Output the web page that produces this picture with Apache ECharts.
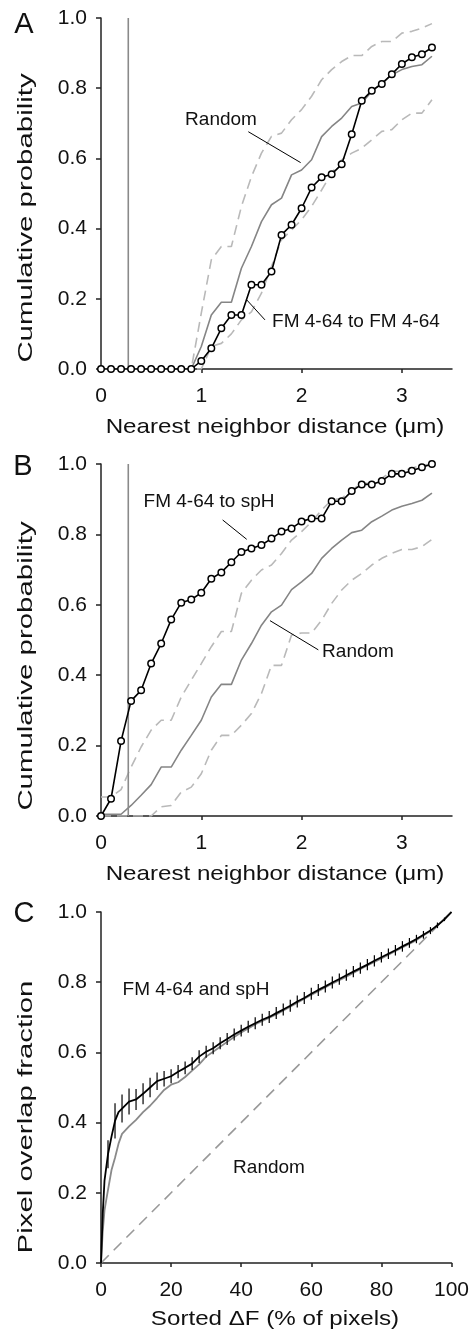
<!DOCTYPE html>
<html><head><meta charset="utf-8">
<script src="https://cdn.jsdelivr.net/npm/echarts@6/dist/echarts.min.js"></script>
<style>html,body{margin:0;padding:0;background:#fff}#c{width:472px;height:1339px}</style>
</head><body><div id="c"></div>
<script>
// ---------- data ----------
const distX = [0,0.1,0.2,0.3,0.4,0.5,0.6,0.7,0.8,0.9,1.0,1.1,1.2,1.3,1.4,1.5,1.6,1.7,1.8,1.9,2.0,2.1,2.2,2.3,2.4,2.5,2.6,2.7,2.8,2.9,3.0,3.1,3.2,3.3];
const distTicks = [0,1,2,3];
const probTicks = [0,0.2,0.4,0.6,0.8,1.0];

// Panel A: FM 4-64 to FM 4-64
const aObserved = [0,0,0,0,0,0,0,0,0,0,0.023,0.059,0.116,0.154,0.154,0.240,0.240,0.278,0.382,0.411,0.458,0.517,0.546,0.555,0.583,0.669,0.764,0.793,0.812,0.840,0.869,0.888,0.897,0.916];
const aRandom   = [0,0,0,0,0,0,0,0,0,0,0.064,0.154,0.190,0.190,0.287,0.349,0.420,0.468,0.487,0.553,0.567,0.596,0.662,0.691,0.715,0.748,0.758,0.791,0.815,0.838,0.853,0.862,0.867,0.891];
const aUpper    = [0,0,0,0,0,0,0,0,0,0,0.159,0.311,0.349,0.349,0.463,0.548,0.615,0.663,0.672,0.710,0.739,0.777,0.824,0.853,0.876,0.893,0.893,0.919,0.933,0.933,0.957,0.962,0.971,0.984];
const aLower    = [0,0,0,0,0,0,0,0,0,0,0,0.064,0.073,0.100,0.140,0.163,0.216,0.292,0.368,0.396,0.425,0.463,0.510,0.558,0.596,0.615,0.629,0.653,0.677,0.682,0.710,0.729,0.729,0.767];

// Panel B: FM 4-64 to spH
const bObserved = [0,0.049,0.213,0.327,0.357,0.433,0.490,0.558,0.606,0.615,0.634,0.674,0.692,0.721,0.750,0.760,0.770,0.788,0.808,0.817,0.837,0.845,0.845,0.894,0.894,0.923,0.942,0.942,0.952,0.972,0.972,0.981,0.991,1.0];
const bRandom   = [0.005,0.005,0.005,0.030,0.059,0.089,0.139,0.139,0.187,0.229,0.272,0.338,0.374,0.374,0.443,0.490,0.542,0.580,0.599,0.643,0.665,0.689,0.732,0.760,0.784,0.805,0.812,0.836,0.852,0.869,0.880,0.888,0.897,0.917];
const bUpper    = [0.054,0.054,0.075,0.139,0.196,0.244,0.272,0.272,0.338,0.386,0.433,0.481,0.524,0.524,0.633,0.670,0.699,0.713,0.746,0.784,0.808,0.836,0.869,0.898,0.902,0.926,0.945,0.945,0.960,0.979,0.979,0.988,0.997,1.0];
const bLower    = [0,0,0,0,0,0,0.026,0.030,0.068,0.082,0.120,0.187,0.229,0.229,0.258,0.291,0.348,0.428,0.428,0.514,0.520,0.520,0.556,0.604,0.642,0.670,0.689,0.713,0.732,0.746,0.757,0.757,0.765,0.786];

const markerDist = 0.272; // vertical reference line (um)

// Panel C: pixel overlap
const cX    = [0,0.5,1,2,3,4,5,6,8,10,12,14,16,18,20,22,24,26,28,30,32,34,36,38,40,42,44,46,48,50,52,54,56,58,60,62,64,66,68,70,72,74,76,78,80,82,84,86,88,90,92,94,96,98,100];
const cMean = [0,0.140,0.235,0.310,0.360,0.405,0.430,0.440,0.460,0.466,0.482,0.500,0.518,0.525,0.532,0.545,0.556,0.568,0.588,0.602,0.612,0.626,0.638,0.651,0.662,0.673,0.683,0.693,0.701,0.712,0.722,0.733,0.745,0.755,0.767,0.778,0.788,0.799,0.809,0.820,0.830,0.840,0.850,0.861,0.871,0.881,0.891,0.902,0.912,0.923,0.935,0.947,0.962,0.979,1.0];
const cErrX = [2,4,6,8,10,12,14,16,18,20,22,24,26,28,30,32,34,36,38,40,42,44,46,48,50,52,54,56,58,60,62,64,66,68,70,72,74,76,78,80,82,84,86,88,90,92,94,96,98];
const cErr  = [0.040,0.050,0.040,0.037,0.030,0.030,0.028,0.025,0.022,0.020,0.019,0.018,0.018,0.018,0.017,0.017,0.017,0.017,0.017,0.017,0.017,0.017,0.017,0.017,0.017,0.017,0.017,0.017,0.017,0.017,0.017,0.017,0.017,0.016,0.016,0.016,0.016,0.016,0.016,0.015,0.015,0.015,0.015,0.014,0.012,0.011,0.010,0.008,0.005];
const cGrayX = [0,0.5,1,1.5,3,4,5,6,8,10,12,14,16,18,20,22,24,26,28,30,32,34,36,38,40,45,50,55,60,65,70,75,80,85,90,95,100];
const cGray  = [0,0.090,0.150,0.180,0.265,0.300,0.340,0.368,0.389,0.408,0.430,0.448,0.470,0.493,0.508,0.515,0.530,0.548,0.566,0.588,0.602,0.616,0.630,0.644,0.657,0.685,0.708,0.736,0.764,0.791,0.816,0.843,0.868,0.894,0.920,0.952,1.0];
const cRandomX = [0,100];
const cRandomY = [0,1];
const pctTicks = [0,20,40,60,80,100];

// ---------- styles ----------
const FONT = '"Liberation Sans", Arial, sans-serif';
const TXT = '#111';
const AX = '#222';
const TICKFS = 21;
const zip = (xs, ys) => xs.map((x, i) => [x, ys[i]]);

function xAxisDist(gi) {
  return {
    type: 'value', gridIndex: gi, min: 0, max: 3.5,
    axisLine: {show: true, onZero: false, lineStyle: {color: AX, width: 1.5}},
    axisTick: {show: true, length: 4, customValues: distTicks, lineStyle: {color: AX, width: 1.5}},
    axisLabel: {customValues: distTicks, margin: 17, fontSize: TICKFS, fontFamily: FONT, color: TXT},
    splitLine: {show: false}
  };
}
function yAxisProb(gi) {
  return {
    type: 'value', gridIndex: gi, min: 0, max: 1, interval: 0.2,
    axisLine: {show: true, onZero: false, lineStyle: {color: AX, width: 1.5}},
    axisTick: {show: true, length: 5, lineStyle: {color: AX, width: 1.5}},
    axisLabel: {margin: 14, fontSize: TICKFS, fontFamily: FONT, color: TXT, formatter: v => v.toFixed(1)},
    splitLine: {show: false}
  };
}
const dashStyle = {color: '#b9b9b9', width: 1.6, type: [10, 6]};
const grayStyle = {color: '#858585', width: 1.6};
const leader = (pairs) => ({
  silent: true, symbol: 'none', label: {show: false},
  lineStyle: {color: '#000', width: 1, type: 'solid'},
  data: pairs.map(p => [{coord: p[0]}, {coord: p[1]}])
});
const circleSeries = (gi, ys) => ({
  type: 'line', xAxisIndex: gi, yAxisIndex: gi, data: zip(distX, ys),
  symbol: 'circle', symbolSize: 6.5, showSymbol: true,
  lineStyle: {color: '#000', width: 1.6},
  itemStyle: {color: '#fff', borderColor: '#000', borderWidth: 1.5},
  z: 5
});
const plain = (gi, data, ls, extra) => Object.assign({
  type: 'line', xAxisIndex: gi, yAxisIndex: gi, data: data, symbol: 'none', lineStyle: ls, silent: true
}, extra || {});

const T = (text, x, y, size, extra) => Object.assign({
  type: 'text', x: x, y: y,
  style: {text: text, fontSize: size, fontFamily: FONT, fill: TXT, align: 'center', verticalAlign: 'middle'}
}, extra || {});
const YT = (text, y) => T(text, 26, y, 21, {rotation: Math.PI / 2, scaleX: 1.4});
const XT = (text, y) => T(text, 275, y, 21, {scaleX: 1.15});

const option = {
  animation: false,
  backgroundColor: '#fff',
  grid: [
    {left: 101, top: 18, width: 351, height: 351},
    {left: 101, top: 464, width: 351, height: 352},
    {left: 101, top: 912, width: 351, height: 351}
  ],
  xAxis: [
    xAxisDist(0), xAxisDist(1),
    {
      type: 'value', gridIndex: 2, min: 0, max: 100, interval: 20,
      axisLine: {show: true, onZero: false, lineStyle: {color: AX, width: 1.5}},
      axisTick: {show: true, length: 4, lineStyle: {color: AX, width: 1.5}},
      axisLabel: {margin: 17, fontSize: TICKFS, fontFamily: FONT, color: TXT},
      splitLine: {show: false}
    }
  ],
  yAxis: [yAxisProb(0), yAxisProb(1), yAxisProb(2)],
  series: [
    // Panel A
    plain(0, zip(distX, aUpper), dashStyle),
    plain(0, zip(distX, aLower), dashStyle),
    plain(0, zip(distX, aRandom), grayStyle, {markLine: leader([[[1.469, 0.676], [1.991, 0.588]], [[1.453, 0.197], [1.635, 0.140]]])}),
    plain(0, [[markerDist, 0], [markerDist, 1]], {color: '#8a8a8a', width: 1.6}),
    circleSeries(0, aObserved),
    // Panel B
    plain(1, zip(distX, bUpper), dashStyle),
    plain(1, zip(distX, bLower), dashStyle),
    plain(1, zip(distX, bRandom), grayStyle, {markLine: leader([[[1.213, 0.841], [1.453, 0.786]], [[1.685, 0.555], [2.167, 0.472]]])}),
    plain(1, [[markerDist, 0], [markerDist, 1]], {color: '#8a8a8a', width: 1.6}),
    circleSeries(1, bObserved),
    // Panel C
    plain(2, zip(cRandomX, cRandomY), {color: '#999', width: 1.6, type: [11, 7]}),
    plain(2, zip(cGrayX, cGray), {color: '#8a8a8a', width: 1.8}),
    {
      type: 'custom', xAxisIndex: 2, yAxisIndex: 2, silent: true, z: 4,
      data: cErrX.map((x, i) => [x, cMean[cX.indexOf(x)], cErr[i]]),
      renderItem: function (params, api) {
        const x = api.value(0), y = api.value(1), e = api.value(2);
        const p1 = api.coord([x, y - e]), p2 = api.coord([x, y + e]);
        return {type: 'line', shape: {x1: p1[0], y1: p1[1], x2: p2[0], y2: p2[1]}, style: {stroke: '#000', lineWidth: 1.2}};
      }
    },
    plain(2, zip(cX, cMean), {color: '#000', width: 1.8}, {z: 5})
  ],
  graphic: [
    T('A', 24, 25, 29),
    T('B', 23, 467, 29),
    T('C', 24, 914, 29),
    YT('Cumulative probability', 218),
    YT('Cumulative probability', 666),
    YT('Pixel overlap fraction', 1117),
    XT('Nearest neighbor distance (\u03bcm)', 427),
    XT('Nearest neighbor distance (\u03bcm)', 874),
    XT('Sorted \u0394F (% of pixels)', 1319),
    T('Random', 221, 120, 19),
    T('FM 4-64 to FM 4-64', 356, 322, 19),
    T('FM 4-64 to spH', 209, 502, 19),
    T('Random', 358, 652, 19),
    T('FM 4-64 and spH', 196, 990, 19),
    T('Random', 269, 1168, 19)
  ]
};
const chart = echarts.init(document.getElementById('c'), null, {renderer: 'canvas'});
chart.setOption(option);
</script>
</body></html>
